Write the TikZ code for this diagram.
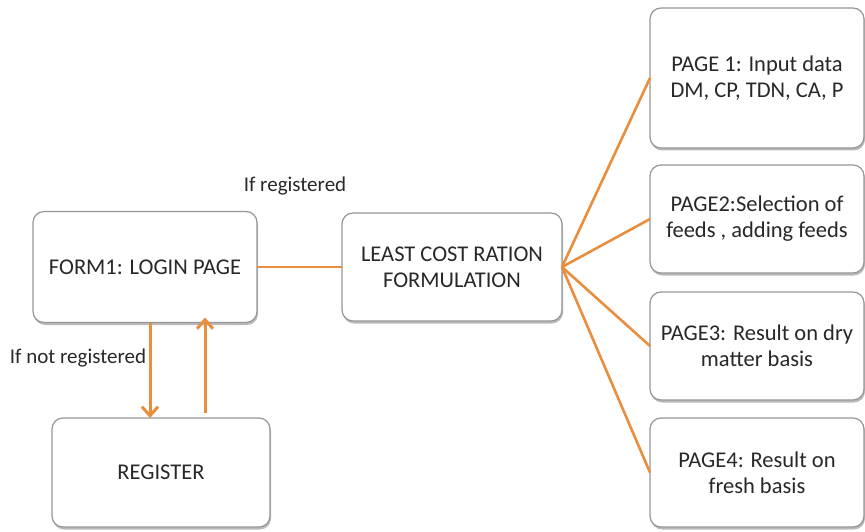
\documentclass[tikz,border=0pt]{standalone}
\usepackage{fontspec}
\setmainfont{Carlito}
\usetikzlibrary{arrows.meta,shadows}
\definecolor{linkorange}{RGB}{232,142,62}
\definecolor{boxgray}{RGB}{150,150,150}
\definecolor{inkgray}{RGB}{40,40,40}
\begin{document}
\begin{tikzpicture}[x=1pt,y=-1pt,
  box/.style={draw=boxgray,line width=1.2pt,rounded corners=11pt,fill=white,
    inner sep=0pt,outer sep=0pt,align=center,text=inkgray,
    font=\fontsize{22.5}{26}\selectfont,
    drop shadow={shadow xshift=1pt,shadow yshift=-2.5pt,opacity=0.45,fill=black!60}},
  flow/.style={draw=linkorange,line width=2.6pt},
  lbl/.style={font=\fontsize{21}{24}\selectfont,inner sep=0pt,text=inkgray}]
\useasboundingbox (0,0) rectangle (865,532);
\node[box,minimum width=224pt,minimum height=111pt] (login) at (145,267) {FORM1: LOGIN PAGE};
\node[box,minimum width=218pt,minimum height=109pt] (reg) at (161,472.5) {REGISTER};
\node[box,minimum width=220pt,minimum height=108pt] (lcrf) at (452,267) {LEAST COST RATION\\FORMULATION};
\node[box,minimum width=214pt,minimum height=140pt] (p1) at (757,78) {PAGE 1: Input data\\DM, CP, TDN, CA, P};
\node[box,minimum width=214pt,minimum height=108pt] (p2) at (757,219) {PAGE2:Selection of\\feeds , adding feeds};
\node[box,minimum width=214pt,minimum height=108pt] (p3) at (757,346) {PAGE3: Result on dry\\matter basis};
\node[box,minimum width=214pt,minimum height=109pt] (p4) at (757,472.5) {PAGE4: Result on\\fresh basis};
\node[lbl] (ifreg) at (295,186) {If registered};
\node[lbl] (ifnot) at (78,358) {If not registered};
\draw[flow] (login.east) -- (lcrf.west);
\foreach \p in {p1,p2,p3,p4}
  \draw[flow] (lcrf.east) -- (\p.west);
\draw[flow,line width=3pt,-{Straight Barb[length=9pt,width=16pt]}] ([xshift=5pt]login.south) -- ([xshift=5pt]login.south |- reg.north);
\draw[flow,line width=3pt,-{Straight Barb[length=9pt,width=16pt]}] ([xshift=44pt,yshift=5pt]reg.north) -- ([xshift=44pt,yshift=5pt]reg.north |- login.south);
\end{tikzpicture}
\end{document}
